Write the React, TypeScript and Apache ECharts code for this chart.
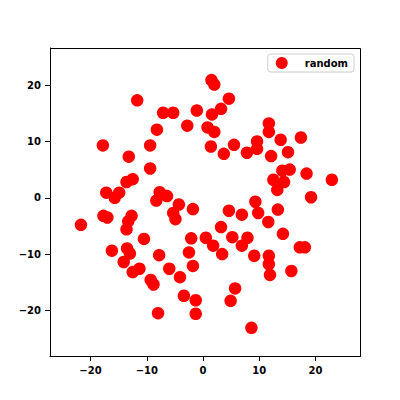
import React, { useEffect, useRef } from "react";
import * as echarts from "echarts";

const seriesName = "random";
const xs = [
  -11.7, -7.1, -5.3, -1.1, -2.8, 0.8, -8.2, -17.8, -9.4, -13.2, -9.4, -13.6, -12.5, -17.2, -14.9, -15.7, -7.7, -6.4, -8.3, -4.3,
  1.5, 2.0, 4.6, 3.2, 1.6, 2.0, 11.7, 11.7, 17.4, 13.8, 1.4, 5.5, 3.7, 7.8, 9.6, 9.6, 12.1, 15.1, 14.1, 15.4, 18.4, 22.9, 12.5, 14.4, 13.2, 19.2,
  9.3, 4.6, 6.9, 9.8, 13.3, 11.6, 3.2, 0.5, 1.8, 5.2, 7.9, 6.9, 3.4, 9.1, 14.2, 17.2, 18.1, 11.7, 11.7, 11.9, 15.7, 5.7, 4.9, 8.6,
  -1.8, -21.7, -17.7, -17.0, -12.7, -13.3, -13.6, -5.3, -4.9, -10.5, -2.1, -16.2, -13.5, -13.0, -14.1, -7.8, -2.5, -12.5, -11.3, -6.0,
  -9.3, -8.8, -4.1, -1.8, -3.4, -1.3, -8.0, -1.3,
];
const ys = [
  17.3, 15.1, 15.1, 15.5, 12.8, 12.5, 12.1, 9.3, 9.3, 7.3, 5.2, 2.8, 3.3, 0.9, 0.9, 0.0, 1.0, 0.3, -0.5, -1.2,
  20.9, 20.1, 17.6, 15.8, 14.8, 11.7, 13.2, 11.7, 10.7, 10.3, 9.1, 9.4, 7.8, 8.0, 10.0, 8.7, 7.4, 8.1, 4.8, 5.0, 4.3, 3.2, 3.2, 2.8, 1.4, 0.1,
  -0.7, -2.3, -3.0, -2.7, -2.1, -4.3, -5.2, -7.1, -8.5, -7.0, -7.1, -8.5, -10.0, -10.3, -6.4, -8.8, -8.8, -10.3, -11.8, -13.7, -13.0, -16.1, -18.3, -23.1,
  -2.0, -4.8, -3.2, -3.5, -3.2, -4.2, -5.6, -2.7, -3.8, -7.3, -7.2, -9.4, -9.0, -9.9, -11.4, -10.2, -9.7, -13.2, -12.6, -12.6,
  -14.6, -15.4, -14.1, -12.1, -17.4, -18.2, -20.5, -20.6,
];
const xTicks = [-20, -10, 0, 10, 20];
const yTicks = [-20, -10, 0, 10, 20];

const fmt = (v: number) => (v < 0 ? "\u2212" + Math.abs(v) : String(v));

export default function App() {
  const ref = useRef<HTMLDivElement>(null);
  useEffect(() => {
    if (!ref.current) return;
    const chart = echarts.init(ref.current, null, { renderer: "svg" });
    const data = xs.map((x, i) => [x, ys[i]]);
    const labelStyle = {
      color: "#000",
      fontSize: 10,
      fontWeight: "bold" as const,
      fontFamily: "DejaVu Sans",
      margin: 9,
      formatter: (v: number) => fmt(v),
    };
    chart.setOption({
      animation: false,
      backgroundColor: "#fff",
      grid: {
        left: 50,
        right: 40,
        top: 48,
        bottom: 44,
        containLabel: false,
      },
      graphic: [
        {
          type: "rect",
          z: 100,
          silent: true,
          shape: { x: 50.5, y: 48.5, width: 310, height: 308 },
          style: { fill: "none", stroke: "#000", lineWidth: 1 },
        },
      ],
      legend: {
        right: 46,
        top: 54,
        data: [seriesName],
        icon: "circle",
        itemWidth: 12,
        itemHeight: 12,
        itemGap: 5,
        padding: [3, 6, 3, 8],
        borderColor: "#cccccc",
        borderWidth: 1,
        borderRadius: 3,
        backgroundColor: "rgba(255,255,255,0.8)",
        textStyle: {
          color: "#000",
          fontSize: 10,
          fontWeight: "bold",
          fontFamily: "DejaVu Sans",
          padding: [0, 0, 0, 12],
        },
      },
      xAxis: {
        type: "value",
        min: -27.2,
        max: 27.9,
        splitLine: { show: false },
        axisLine: { show: true, onZero: false, lineStyle: { color: "#000", width: 1 } },
        axisTick: { show: true, length: 5, lineStyle: { color: "#000", width: 1 }, customValues: xTicks },
        axisLabel: { ...labelStyle, customValues: xTicks },
      },
      yAxis: {
        type: "value",
        min: -28.1,
        max: 26.6,
        splitLine: { show: false },
        axisLine: { show: true, onZero: false, lineStyle: { color: "#000", width: 1 } },
        axisTick: { show: true, length: 5, lineStyle: { color: "#000", width: 1 }, customValues: yTicks },
        axisLabel: { ...labelStyle, customValues: yTicks },
      },
      series: [
        {
          name: seriesName,
          type: "scatter",
          data,
          symbol: "circle",
          symbolSize: 12.5,
          itemStyle: { color: "#ff0000", opacity: 1 },
        },
      ],
    });
    return () => chart.dispose();
  }, []);
  return <div ref={ref} style={{ width: 400, height: 400, position: "absolute", left: 0, top: 0 }} />;
}
